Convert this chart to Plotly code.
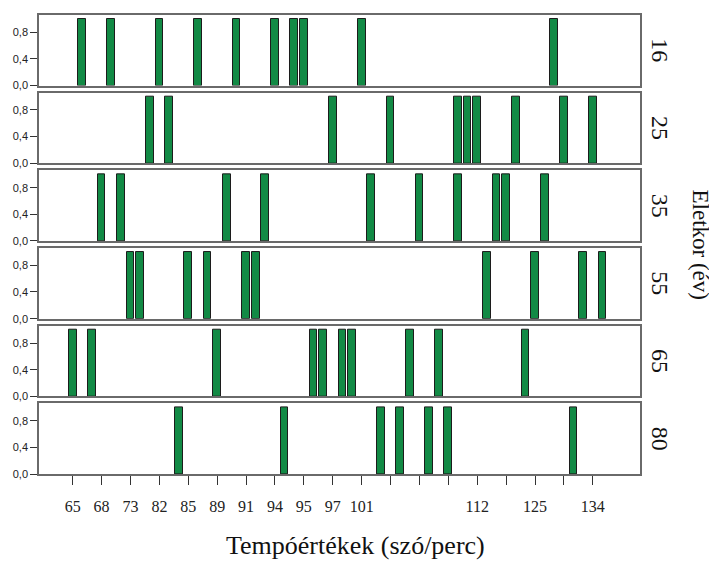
import plotly.graph_objects as go
from plotly.subplots import make_subplots

# Age groups (rows)
age_groups = ["16", "25", "35", "55", "65", "80"]

# Bar positions: rank of the tempo value on the ordinal x axis (0 = 65 szó/perc)
pos_16 = [1, 4, 9, 13, 17, 21, 23, 24, 30, 50]
pos_25 = [8, 10, 27, 33, 40, 41, 42, 46, 51, 54]
pos_35 = [3, 5, 16, 20, 31, 36, 40, 44, 45, 49]
pos_55 = [6, 7, 12, 14, 18, 19, 43, 48, 53, 55]
pos_65 = [0, 2, 15, 25, 26, 28, 29, 35, 38, 47]
pos_80 = [11, 22, 32, 34, 37, 39, 52]
positions = [pos_16, pos_25, pos_35, pos_55, pos_65, pos_80]

# Count per tempo value (each bar is one speaker)
count_value = 1

# x tick labels (every third category)
x_tick_idx = list(range(0, 55, 3))
x_tick_text = ["65", "68", "73", "82", "85", "89", "91", "94", "95", "97", "101",
               "", "", "", "112", "", "125", "", "134"]

y_tick_vals = [0.0, 0.4, 0.8]
y_tick_text = ["0,0", "0,4", "0,8"]

x_title = "Tempóértékek (szó/perc)"
y_title = "Életkor (év)"

BAR = "#128a45"
SERIF = "Liberation Serif"
SANS = "Liberation Sans"

n = len(age_groups)
fig = make_subplots(rows=n, cols=1, shared_xaxes=True, vertical_spacing=7.1 / 461)

for i, pos in enumerate(positions):
    fig.add_trace(
        go.Bar(
            x=pos,
            y=[count_value] * len(pos),
            width=0.8,
            marker=dict(color=BAR, line=dict(color="#1c1c1c", width=1)),
            showlegend=False,
            hoverinfo="x+y",
        ),
        row=i + 1, col=1,
    )
    fig.update_yaxes(
        range=[0, 1.06],
        tickvals=y_tick_vals, ticktext=y_tick_text,
        ticks="outside", ticklen=7, tickwidth=1, tickcolor="#333",
        tickfont=dict(family=SANS, size=11, color="#222"),
        showgrid=False, zeroline=False,
        showline=True, linecolor="#6a6a6a", linewidth=1.5, mirror=True,
        row=i + 1, col=1,
    )
    fig.update_xaxes(
        range=[-3.5, 58.9],
        tickvals=x_tick_idx, ticktext=x_tick_text,
        ticks="outside" if i == n - 1 else "",
        showticklabels=(i == n - 1),
        ticklen=9, tickwidth=1, tickcolor="#333",
        tickfont=dict(family=SERIF, size=16, color="#222"),
        ticklabelstandoff=8,
        showgrid=False, zeroline=False,
        showline=True, linecolor="#6a6a6a", linewidth=1.5, mirror=True,
        row=i + 1, col=1,
    )
    yref = "y domain" if i == 0 else f"y{i+1} domain"
    fig.add_annotation(
        text=age_groups[i], xref="paper", yref=yref, x=1, y=0.5,
        xanchor="center", yanchor="middle", xshift=20, textangle=90,
        showarrow=False, font=dict(family=SERIF, size=24, color="#111"),
    )

fig.add_annotation(
    text=y_title, xref="paper", yref="paper", x=1, y=0.5,
    xanchor="center", yanchor="middle", xshift=60, yshift=0, textangle=90,
    showarrow=False, font=dict(family=SERIF, size=23, color="#111"),
)
fig.add_annotation(
    text=x_title, xref="paper", yref="paper", x=0.526, y=0,
    xanchor="center", yanchor="middle", yshift=-71,
    showarrow=False, font=dict(family=SERIF, size=26, color="#111"),
)

# page body has an 8px margin: compensate so the plot lands where the reference is
fig.update_layout(
    width=709, height=562,
    margin=dict(l=31, r=77, t=5, b=96),
    paper_bgcolor="white", plot_bgcolor="white",
    bargap=0,
)

fig.write_html("out.html")
